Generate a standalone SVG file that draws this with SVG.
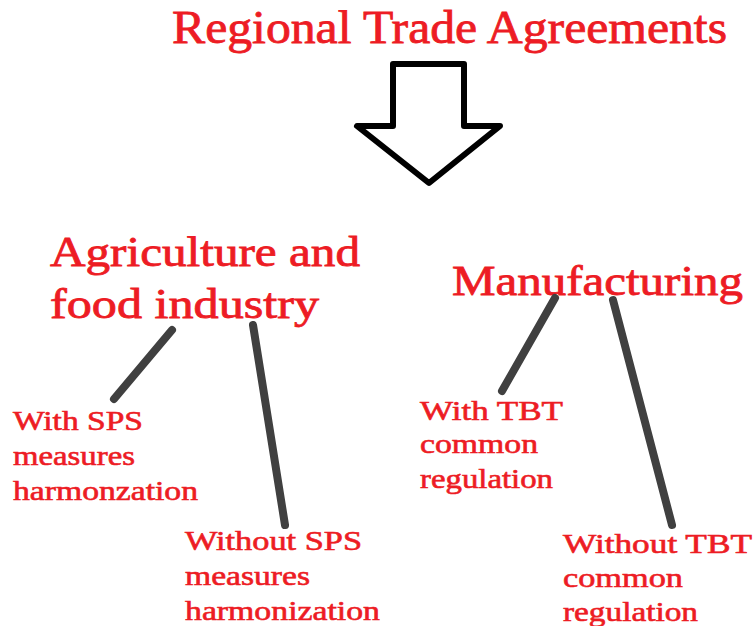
<svg xmlns="http://www.w3.org/2000/svg" width="754" height="626" viewBox="0 0 754 626">
<style>
text{font-family:"Liberation Serif","Times New Roman",serif;fill:#ED1C24;stroke:#ED1C24;}
.t{font-size:46px;stroke-width:0.8;}
.h{font-size:42px;stroke-width:0.8;}
.s{font-size:27px;stroke-width:0.6;}
.c{stroke:#404040;stroke-width:8;stroke-linecap:round;fill:none;}
</style>
<rect width="754" height="626" fill="#fff"/>
<g id="title"><text class="t" x="172" y="43" textLength="555" lengthAdjust="spacingAndGlyphs">Regional Trade Agreements</text></g>
<g id="arrow"><polygon points="393,64 464,64 464,126 500,126 429,183 357,126 393,126" fill="#fff" stroke="#000" stroke-width="6" stroke-linejoin="round"/></g>
<g id="agri">
<text class="h" x="50" y="266" textLength="310" lengthAdjust="spacingAndGlyphs">Agriculture and</text>
<text class="h" x="50" y="318" textLength="269" lengthAdjust="spacingAndGlyphs">food industry</text>
</g>
<g id="manuf"><text class="h" x="452" y="295" textLength="291" lengthAdjust="spacingAndGlyphs">Manufacturing</text></g>
<g id="with-sps">
<text class="s" x="13" y="430" textLength="130" lengthAdjust="spacingAndGlyphs">With SPS</text>
<text class="s" x="13" y="465" textLength="122" lengthAdjust="spacingAndGlyphs">measures</text>
<text class="s" x="13" y="500" textLength="185" lengthAdjust="spacingAndGlyphs">harmonzation</text>
</g>
<g id="without-sps">
<text class="s" x="185" y="550" textLength="177" lengthAdjust="spacingAndGlyphs">Without SPS</text>
<text class="s" x="185" y="585" textLength="125" lengthAdjust="spacingAndGlyphs">measures</text>
<text class="s" x="185" y="620" textLength="195" lengthAdjust="spacingAndGlyphs">harmonization</text>
</g>
<g id="with-tbt">
<text class="s" x="420" y="420" textLength="143" lengthAdjust="spacingAndGlyphs">With TBT</text>
<text class="s" x="420" y="453" textLength="118" lengthAdjust="spacingAndGlyphs">common</text>
<text class="s" x="420" y="488" textLength="133" lengthAdjust="spacingAndGlyphs">regulation</text>
</g>
<g id="without-tbt">
<text class="s" x="563" y="553" textLength="189" lengthAdjust="spacingAndGlyphs">Without TBT</text>
<text class="s" x="563" y="587" textLength="120" lengthAdjust="spacingAndGlyphs">common</text>
<text class="s" x="563" y="621" textLength="135" lengthAdjust="spacingAndGlyphs">regulation</text>
</g>
<g id="connectors">
<line class="c" x1="172" y1="330" x2="114" y2="399"/>
<line class="c" x1="253" y1="325" x2="285" y2="525"/>
<line class="c" x1="555" y1="298" x2="502" y2="391"/>
<line class="c" x1="613" y1="300" x2="672" y2="525"/>
</g>
</svg>
